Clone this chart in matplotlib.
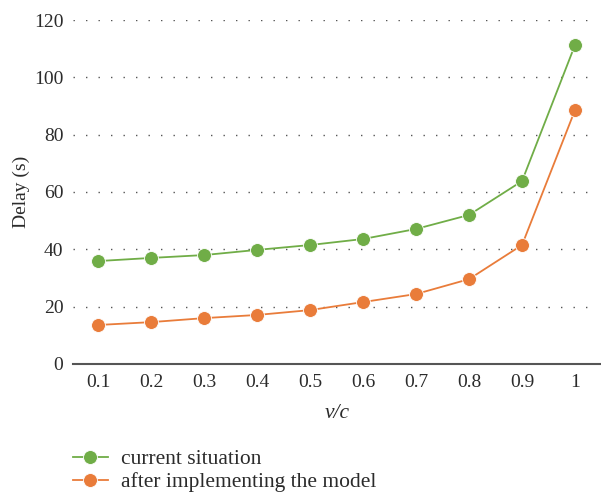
import matplotlib
matplotlib.use('Agg')
import matplotlib.pyplot as plt

plt.rcParams['font.family'] = ['Liberation Serif', 'DejaVu Serif']

# data
vc = [0.1, 0.2, 0.3, 0.4, 0.5, 0.6, 0.7, 0.8, 0.9, 1.0]
vc_labels = ['0.1', '0.2', '0.3', '0.4', '0.5', '0.6', '0.7', '0.8', '0.9', '1']
current = [35.9, 37.0, 38.0, 39.8, 41.5, 43.6, 47.1, 52.0, 63.8, 111.3]
after_model = [13.6, 14.6, 16.0, 17.1, 18.8, 21.6, 24.4, 29.6, 41.5, 88.6]
yticks = [0, 20, 40, 60, 80, 100, 120]

green = '#70AD47'
orange = '#E97C3A'
txt = '#2b2b2b'

fig = plt.figure(figsize=(6.01, 4.93), dpi=100)
ax = fig.add_axes([0.1215, 0.2617, 0.8785, 0.6977])

# dotted horizontal grid
ax.hlines(yticks[1:], 0.053, 1.028, colors='#555555', linewidth=1.0,
          linestyles=(0, (1, 8)), zorder=1)

ax.plot(vc, current, color=green, lw=1.3, marker='o', ms=10,
        markeredgecolor='white', markeredgewidth=0.6, label='current situation', zorder=3)
ax.plot(vc, after_model, color=orange, lw=1.3, marker='o', ms=10,
        markeredgecolor='white', markeredgewidth=0.6, label='after implementing the model', zorder=3)

ax.set_xlim(0.0527, 1.049)
ax.set_ylim(0, 120)
ax.set_xticks(vc)
ax.set_xticklabels(vc_labels)
ax.set_yticks(yticks)
ax.tick_params(length=0, labelsize=14, colors=txt)
ax.tick_params(axis='y', pad=7)
ax.tick_params(axis='x', pad=7.5)

for s in ['top', 'right', 'left']:
    ax.spines[s].set_visible(False)
ax.spines['bottom'].set_color('#555555')
ax.spines['bottom'].set_linewidth(1.5)
ax.spines['bottom'].set_zorder(2)

ax.set_xlabel('v/c', fontsize=15.5, style='italic', color=txt, labelpad=9)
ax.set_ylabel('Delay (s)', fontsize=14, color=txt)
ax.yaxis.set_label_coords(-0.082, 0.5)

fig.legend(loc='upper left', bbox_to_anchor=(0.1215, 0.089), frameon=False,
           fontsize=15.5, handlelength=1.62, handletextpad=0.62, labelspacing=0.15,
           borderaxespad=0, borderpad=0, labelcolor=txt)

fig.savefig('out.png', dpi=100)
